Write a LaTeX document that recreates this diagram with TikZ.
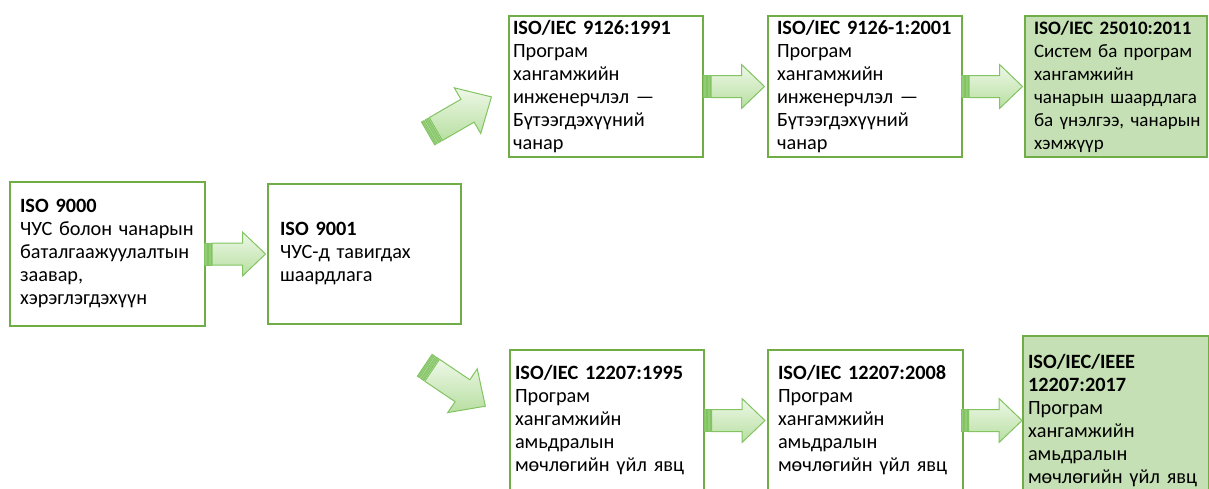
\documentclass[tikz,border=0pt]{standalone}
\usepackage{fontspec}
\setmainfont{Carlito}
\usepackage{tikz}
\usetikzlibrary{positioning, calc}
\definecolor{BoxGreen}{HTML}{70AD47}
\definecolor{BoxFill}{HTML}{C5E0B4}
\definecolor{ArrowLine}{HTML}{82C462}
\definecolor{ArrowTop}{HTML}{EEF8E8}
\definecolor{ArrowBottom}{HTML}{B7DFA0}
\definecolor{StripeFill}{HTML}{92CC76}

\tikzset{
  arrowbody/.style={draw=ArrowLine, line width=1pt, top color=ArrowTop, bottom color=ArrowBottom},
  arrowstripe/.style={draw=ArrowLine, line width=0.8pt, fill=StripeFill},
  stripearrow/.pic={
    \path[arrowbody] (-24.5,-11) -- (6,-11) -- (6,-22) -- (29,0) -- (6,22) -- (6,11) -- (-24.5,11) -- cycle;
    \path[arrowstripe] (-32,-11) rectangle (-29.5,11);
    \path[arrowstripe] (-28.5,-11) rectangle (-25.5,11);
  }
}

\begin{document}
\begin{tikzpicture}[
  x=1pt, y=1pt,
  box/.style={rectangle, draw=BoxGreen, line width=2.5pt, fill=white, align=left,
              inner ysep=2pt, outer sep=0pt, minimum height=141pt,
              font=\fontsize{20.3}{23}\selectfont},
  lastbox/.style={box, fill=BoxFill}
]
\clip (0,0) rectangle (1209,-488);
\fill[white] (0,0) rectangle (1209,-488);

\node[box, anchor=north west, text width=175pt, inner xsep=10pt, minimum height=144pt] (iso9000) at (10,-182)
  {\textbf{ISO 9000}\\ЧУС~болон~чанарын\\баталгаажуулалтын\\заавар,\\хэрэглэгдэхүүн};
\node[box, text width=169pt, inner xsep=12pt, minimum height=140pt, right=63pt of iso9000] (iso9001)
  {\textbf{ISO 9001}\\ЧУС-д~тавигдах\\шаардлага};

% quality branch
\node[box, text width=186pt, inner xsep=4pt, above right=27pt and 48pt of iso9001] (iec9126)
  {\textbf{ISO/IEC~9126:1991}\\Програм\\хангамжийн\\инженерчлэл~—\\Бүтээгдэхүүний\\чанар};
\node[box, text width=176pt, inner xsep=9pt, right=65pt of iec9126] (iec9126one)
  {\textbf{ISO/IEC~9126-1:2001}\\Програм\\хангамжийн\\инженерчлэл~—\\Бүтээгдэхүүний\\чанар};
\node[lastbox, text width=164pt, inner xsep=9pt, font=\fontsize{19}{23}\selectfont, right=63pt of iec9126one] (iec25010)
  {\textbf{ISO/IEC~25010:2011}\\Систем~ба~програм\\хангамжийн\\чанарын~шаардлага\\ба~үнэлгээ,~чанарын\\хэмжүүр};

% life cycle branch
\node[box, text width=184pt, inner xsep=5pt, below right=26pt and 49pt of iso9001] (iec12207)
  {\textbf{ISO/IEC~12207:1995}\\Програм\\хангамжийн\\амьдралын\\мөчлөгийн~үйл~явц};
\node[box, text width=175pt, inner xsep=10pt, right=64pt of iec12207] (iec12207b)
  {\textbf{ISO/IEC~12207:2008}\\Програм\\хангамжийн\\амьдралын\\мөчлөгийн~үйл~явц};
\node[lastbox, text width=176pt, inner xsep=5pt, minimum height=169pt, right=60pt of iec12207b] (ieee12207)
  {\textbf{ISO/IEC/IEEE}\\\textbf{12207:2017}\\Програм\\хангамжийн\\амьдралын\\мөчлөгийн~үйл~явц\par\vspace*{31pt}};

\pic at ($(iso9000.east)!0.5!(iso9001.west)$) {stripearrow};
\pic at ($(iec9126.east)!0.5!(iec9126one.west)$) {stripearrow};
\pic at ($(iec9126one.east)!0.5!(iec25010.west)$) {stripearrow};
\pic at ($(iec12207.east)!0.5!(iec12207b.west)$) {stripearrow};
\pic at ($(iec12207b.east)!0.5!(ieee12207.west)$) {stripearrow};
\pic[rotate=30, scale=1.2] at ($(iso9001.east)+(0.3,139.7)$) {stripearrow};
\pic[rotate=-34, scale=1.2] at ($(iso9001.east)+(-4.5,-132.7)$) {stripearrow};

\end{tikzpicture}
\end{document}
